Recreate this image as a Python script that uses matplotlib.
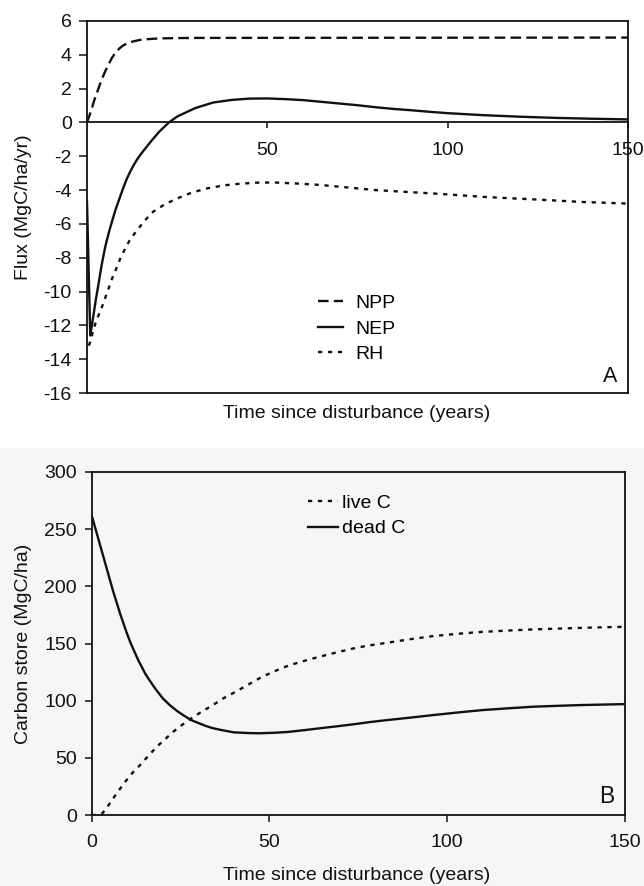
import numpy as np
import matplotlib.pyplot as plt
from matplotlib.patches import Rectangle

plt.rcParams['font.family'] = ['Liberation Sans', 'DejaVu Sans']
plt.rcParams['axes.unicode_minus'] = False

# --- panel A: fluxes (MgC/ha/yr) ---
t_npp = [0, 1, 2, 3, 4, 5, 6, 7, 8, 9, 10, 11, 12, 13, 14, 15, 17, 20, 25, 30, 150]
npp = [0, 0.6, 1.3, 1.9, 2.5, 3.0, 3.45, 3.85, 4.15, 4.38, 4.55, 4.66, 4.75, 4.8, 4.85, 4.89, 4.93, 4.97,
       4.99, 5.0, 5.02]

t_nep = [0, 0.9, 1.5, 2, 2.5, 3, 4, 5, 6, 7, 8, 9, 10, 11, 12, 13, 14, 15, 16.5, 18, 20,
         22.7, 25, 30, 35, 40, 45, 50, 55, 60, 65, 70, 75, 80, 85, 90, 95, 100, 110, 120, 130, 140, 150]
nep = [-4.7, -12.6, -11.8, -11.1, -10.4, -9.8, -8.5, -7.4, -6.55, -5.8, -5.1, -4.5, -3.9, -3.35, -2.9, -2.5,
       -2.15, -1.85, -1.45, -1.05, -0.55,
       0, 0.35, 0.85, 1.18, 1.33, 1.41, 1.42, 1.38, 1.32, 1.22, 1.12, 1.02, 0.9, 0.8, 0.72, 0.63, 0.55,
       0.43, 0.34, 0.27, 0.22, 0.18]

t_rh = [0.5, 1, 1.5, 2, 2.6, 3.3, 4, 5, 5.85, 7, 8.2, 9.3, 10.5, 12, 13.8, 16, 18.4, 21.5, 24.9, 29, 33.3,
        38, 42.5, 47, 52, 59, 65, 70, 80, 88, 96, 103, 110, 117, 124, 131, 137, 144, 150]
rh = [-13.2, -12.9, -12.5, -12.1, -11.7, -11.35, -11.0, -10.4, -9.9, -9.2, -8.6, -8.0, -7.5, -6.9, -6.4,
      -5.8, -5.27, -4.85, -4.5, -4.15, -3.9, -3.72, -3.62, -3.56, -3.55, -3.62, -3.7, -3.8, -4.0, -4.1,
      -4.2, -4.3, -4.4, -4.48, -4.55, -4.63, -4.7, -4.75, -4.8]

# --- panel B: carbon stores (MgC/ha) ---
t_live = [0, 2, 3, 4.5, 5.7, 7.5, 9.4, 11.5, 13.7, 16, 18.4, 20.7, 23, 25.5, 28, 31, 34, 37, 40.6, 44, 48,
          52, 55.6, 60, 64, 69, 73.6, 78, 83, 89, 96, 103, 110, 117, 124, 131, 138, 144, 150]
live_c = [0, 0, 1.5, 7.5, 13, 21, 29, 37, 44, 52, 60, 66.5, 73, 79, 84.5, 90.5, 96, 102, 108, 114, 121,
          126.5, 131, 135, 138.4, 142.3, 145.7, 148.3, 150.6, 153.5, 156.5, 158.5, 160.2, 161.3, 162.3,
          163, 163.7, 164.2, 164.6]

t_dead = [0, 1, 2, 3, 4, 5, 6, 7, 8, 9, 10, 11, 12, 13, 14, 15, 16, 17, 18, 19, 20, 22, 24, 26, 28, 30,
          32, 34, 37, 40, 44, 47, 51, 55, 60, 64, 69, 74, 78, 83, 90, 96, 103, 110, 117, 124, 131, 138,
          144, 150]
dead_c = [262, 251, 240, 229, 218, 207, 196, 186, 176, 167, 158, 150, 143, 136, 130, 124, 119, 114.5, 110,
          106, 102, 96, 91, 86.8, 83, 80.5, 78, 76, 74, 72.3, 71.7, 71.5, 71.9, 72.6, 74.3, 75.8, 77.6,
          79.5, 81.2, 83, 85.3, 87.4, 89.7, 91.8, 93.3, 94.7, 95.5, 96.2, 96.6, 97]

INK = '#111111'
BG = '#f6f6f6'
FS = 14

fig = plt.figure(figsize=(6.44, 8.86), dpi=100)
fig.patches.append(Rectangle((0, 0), 1, 1 - 448 / 886, transform=fig.transFigure,
                             facecolor=BG, edgecolor='none', zorder=-10))

# ---------- top panel ----------
ax1 = fig.add_axes([0.1351, 0.5564, 0.8401, 0.4199])
ax1.plot(t_npp, npp, color=INK, lw=1.7, dashes=(4.5, 2.2), label='NPP')
ax1.plot(t_nep, nep, color=INK, lw=1.7, label='NEP')
ax1.plot(t_rh, rh, color=INK, lw=1.7, dashes=(1.8, 2.4), label='RH')
ax1.set_xlim(0, 150)
ax1.set_ylim(-16, 6)
ax1.set_yticks(np.arange(-16, 7, 2))
ax1.set_xticks([50, 100, 150])
ax1.spines['bottom'].set_position(('data', 0))
ax1.axhline(-16, color=INK, lw=1.3, clip_on=False)
for s in ax1.spines.values():
    s.set_color(INK)
    s.set_linewidth(1.3)
ax1.tick_params(axis='y', direction='out', length=5.5, width=1.1, pad=5.5, labelsize=FS, colors=INK)
ax1.tick_params(axis='x', direction='out', length=4, width=1.1, pad=10, labelsize=FS, colors=INK)
ax1.set_ylabel('Flux (MgC/ha/yr)', fontsize=FS, color=INK)
ax1.yaxis.set_label_coords(-0.102, 0.5)
ax1.text(0.981, 0.03, 'A', transform=ax1.transAxes, ha='right', va='baseline', fontsize=15.5, color=INK)
ax1.legend(loc='upper left', bbox_to_anchor=(0.427, 0.265), frameon=False, fontsize=FS,
           handlelength=1.29, handletextpad=0.62, labelspacing=0.41, borderpad=0, borderaxespad=0)
fig.text(357 / 644, 1 - 413 / 886, 'Time since disturbance (years)', ha='center', va='center',
         fontsize=FS, color=INK)

# ---------- bottom panel ----------
ax2 = fig.add_axes([0.1424, 0.0801, 0.8281, 0.3872])
ax2.set_facecolor(BG)
ax2.plot(t_live, live_c, color=INK, lw=1.7, dashes=(1.8, 2.4), label='live C')
ax2.plot(t_dead, dead_c, color=INK, lw=1.7, label='dead C')
ax2.set_xlim(0, 150)
ax2.set_ylim(0, 300)
ax2.set_xticks([0, 50, 100, 150])
ax2.set_yticks(np.arange(0, 301, 50))
for s in ax2.spines.values():
    s.set_color(INK)
    s.set_linewidth(1.3)
ax2.tick_params(direction='out', length=5, width=1.1, pad=5.5, labelsize=FS, colors=INK)
ax2.tick_params(axis='x', pad=9)
ax2.set_ylabel('Carbon store (MgC/ha)', fontsize=FS, color=INK)
ax2.yaxis.set_label_coords(-0.112, 0.5)
ax2.text(0.98, 0.036, 'B', transform=ax2.transAxes, ha='right', va='baseline', fontsize=16.5, color=INK)
ax2.legend(loc='upper left', bbox_to_anchor=(0.405, 0.935), frameon=False, fontsize=FS,
           handlelength=1.55, handletextpad=0.2, labelspacing=0.41, borderpad=0, borderaxespad=0)
fig.text(357 / 644, 1 - 875 / 886, 'Time since disturbance (years)', ha='center', va='center',
         fontsize=FS, color=INK)

fig.savefig('out.png', dpi=100, facecolor='white')
